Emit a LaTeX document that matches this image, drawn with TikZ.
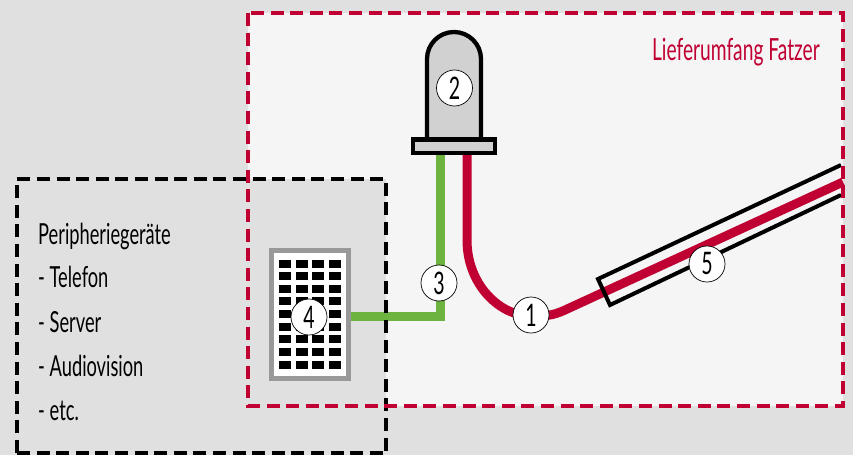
\documentclass[tikz,border=0pt]{standalone}
\usepackage{fontspec}
\setmainfont[FakeStretch=0.63]{Lato}
\usepackage{xcolor}
\usetikzlibrary{calc, positioning}
\definecolor{fatzerrot}{HTML}{C00032}
\definecolor{kabelgruen}{HTML}{6CB33F}
\definecolor{hellgrau}{HTML}{E0E0E0}
\definecolor{innengrau}{HTML}{F5F5F5}
\tikzset{
    nummer/.style={circle, draw=black, fill=white, line width=0.7pt, minimum size=36pt, inner sep=0pt, font=\fontsize{31}{31}\selectfont},
    liste/.style={anchor=base west, inner sep=0pt, font=\fontsize{29}{29}\selectfont},
    rotbox/.style={draw=fatzerrot, line width=4.4pt, dash pattern=on 13pt off 6.6pt},
    schwarzbox/.style={draw=black, line width=4.4pt, dash pattern=on 13pt off 6.6pt},
    kabel/.style={line width=9pt, line join=miter},
    mantel/.style={draw=black, line width=4pt}
}

\begin{document}
\begin{tikzpicture}[x=1pt, y=-1pt]
    \useasboundingbox (0,0) rectangle (853,455);
    % 1. Hintergrund
    \fill[hellgrau] (0,0) rectangle (853,455);
    \fill[innengrau] (248,13) rectangle (843,406);
    \fill[hellgrau] (17,179) rectangle (386,453);

    % 2. Anschlusspunkte
    \coordinate (gruenOben) at (440,153);
    \coordinate (gruenEcke) at (440,316.5);
    \coordinate (rotOben) at (467,153);
    \coordinate (rotUnten) at (467,240);
    \coordinate (rotEnde) at (843,182);
    \coordinate (mantelA) at (598,279);
    \coordinate (mantelB) at (610,305);
    \coordinate (mantelC) at (841,165);
    \coordinate (mantelD) at (841,195);

    % 3. Peripherie-Baustein
    \draw[draw=black!40, fill=white, line width=5pt] (271.5,250.5) rectangle (348.5,378.5);
    \coordinate (bausteinRechts) at (351,316.5);
    \foreach \x in {285,302,318,335} {
        \foreach \y in {264,276,289,301,314,327,339,352,365} {
            \fill (\x-6,\y-4) rectangle (\x+6,\y+4);
        }
    }

    % 4. Kabel
    \draw[kabel, kabelgruen] (gruenOben) -- (gruenEcke) -- (bausteinRechts);
    \draw[kabel, fatzerrot] (rotOben) -- (rotUnten)
        .. controls (467,285) and (500,316) .. (531,316)
        .. controls (545,316) and (552,316) .. (565,310)
        -- (rotEnde);
    \draw[mantel, line join=miter] (mantelC) -- (mantelA) -- (mantelB) -- (mantelD);

    % 5. Leuchte
    \draw[draw=black, fill=black!18, line width=4.3pt] (427,139) -- (427,59)
        arc[start angle=180, end angle=360, radius=27] -- (481,139);
    \draw[draw=black, fill=black!18, line width=4.3pt] (413,139.5) rectangle (495,153);

    % 6. Rahmen
    \draw[schwarzbox] (17,453) -- (17,179) -- (386,179) -- (386,455);
    \draw[schwarzbox] (17,453) -- (386,453);
    \draw[rotbox] (248,13) rectangle (843,406);

    % 7. Nummern
    \node[nummer] (eins) at (531,315) {1};
    \node[nummer] (zwei) at (454.5,88) {2};
    \node[nummer] (drei) at (439,283) {3};
    \node[nummer] (vier) at (309,317) {4};
    \node[nummer] (fuenf) at (707,264) {5};

    % 8. Texte
    \node[anchor=base east, inner sep=0pt, text=fatzerrot, font=\fontsize{30.5}{30.5}\selectfont] (lieferumfang) at (820,60) {Lieferumfang Fatzer};
    \node[liste] (peripherie) at (38,244) {Peripheriegeräte};
    \node[liste] (telefon) at (38,287) {- Telefon};
    \node[liste] (server) at (38,332) {- Server};
    \node[liste] (audio) at (38,376) {- Audiovision};
    \node[liste] (etc) at (38,420) {- etc.};
\end{tikzpicture}
\end{document}
